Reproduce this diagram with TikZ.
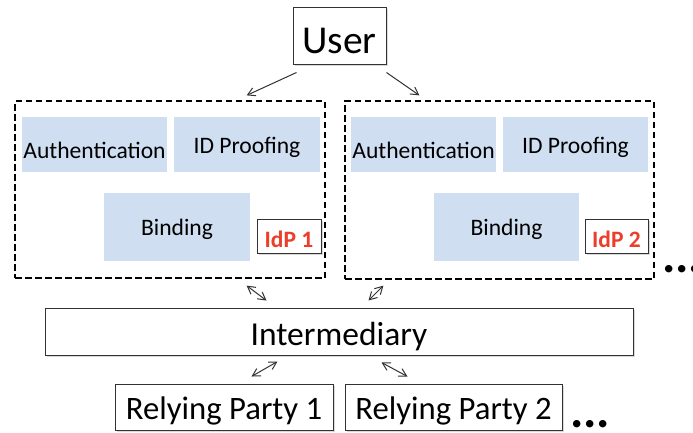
\documentclass[tikz,border=0pt]{standalone}
\usepackage{fontspec}
\setmainfont{Carlito}
\usetikzlibrary{arrows.meta,shadows}
\definecolor{boxblue}{RGB}{207,222,240}
\definecolor{idpred}{RGB}{236,62,42}
\definecolor{edge}{RGB}{50,50,50}
\tikzset{
  wbox/.style={draw=edge, line width=1pt, fill=white, inner sep=0pt, text depth=0pt,
    drop shadow={shadow xshift=1.5pt, shadow yshift=-1.5pt, opacity=0.3, fill=gray}},
  bbox/.style={fill=boxblue, inner sep=0pt, text depth=0pt, font=\fontsize{23.6}{26}\selectfont},
  dbox/.style={draw=black, line width=1.3pt, dash pattern=on 6.5pt off 3.5pt, inner sep=0pt},
  tagbox/.style={wbox, text height=22pt, font=\bfseries\fontsize{23.5}{26}\selectfont, text=idpred},
  tip/.tip={Straight Barb[length=7.5pt,width=8.5pt,line width=1pt]},
  arr/.style={draw=edge, line width=1pt, -tip},
  darr/.style={draw=edge, line width=1pt, tip-tip},
  dots/.style={inner sep=0pt, font=\bfseries\fontsize{50}{54}\selectfont}
}
\begin{document}
\begin{tikzpicture}[x=1pt,y=-1pt]
\useasboundingbox (0,0) rectangle (693,432);
% user
\node[wbox, minimum width=93, minimum height=57, text height=35pt, font=\fontsize{39.5}{42}\selectfont] (user) at (339.5,35.5) {User};
% IdP containers
\node[dbox, minimum width=310, minimum height=177] (idp1) at (170,189.5) {};
\node[dbox, minimum width=309, minimum height=178] (idp2) at (499.5,190) {};
% IdP 1 contents
\node[bbox, minimum width=145, minimum height=55, text height=27pt] (auth1) at (94.5,144.5) {Authentication};
\node[bbox, minimum width=146, minimum height=55, text height=17pt] (proof1) at (247,144.5) {ID Proofing};
\node[bbox, minimum width=146, minimum height=68, text height=16pt] (bind1) at (177,227) {Binding};
\node[tagbox, minimum width=64, minimum height=34] (tag1) at (289,236) {IdP 1};
% IdP 2 contents
\node[bbox, minimum width=145, minimum height=55, text height=27pt] (auth2) at (423.5,144.5) {Authentication};
\node[bbox, minimum width=145, minimum height=55, text height=17pt] (proof2) at (575.5,144.5) {ID Proofing};
\node[bbox, minimum width=145, minimum height=68, text height=16pt] (bind2) at (506.5,227) {Binding};
\node[tagbox, minimum width=63, minimum height=34] (tag2) at (616.5,236) {IdP 2};
\node[dots, anchor=base west] (more1) at (662,272) {...};
% intermediary
\node[wbox, minimum width=588, minimum height=47, text height=27pt, font=\fontsize{33.5}{36}\selectfont] (inter) at (339,331.5) {Intermediary};
% relying parties
\node[wbox, minimum width=218, minimum height=46, text height=24pt, font=\fontsize{32.7}{36}\selectfont] (rp1) at (224,407) {Relying Party 1};
\node[wbox, minimum width=217, minimum height=46, text height=24pt, font=\fontsize{32.7}{36}\selectfont] (rp2) at (453.5,407) {Relying Party 2};
\node[dots, anchor=base west] (more2) at (570,427) {...};
% connectors
\draw[arr] ([shift={(4,8)}]user.south west) -- ([shift={(-79,-5)}]idp1.north east);
\draw[arr] ([shift={(0,8)}]user.south east) -- ([shift={(75,-5)}]idp2.north west);
\draw[darr] ([shift={(-79,7)}]idp1.south east) -- ([shift={(222,-7)}]inter.north west);
\draw[darr] ([shift={(39,6)}]idp2.south west) -- ([shift={(324,-7)}]inter.north west);
\draw[darr] ([shift={(233,6)}]inter.south west) -- ([shift={(137,-7)}]rp1.north west);
\draw[darr] ([shift={(337,7)}]inter.south west) -- ([shift={(63,-7)}]rp2.north west);
\end{tikzpicture}
\end{document}
